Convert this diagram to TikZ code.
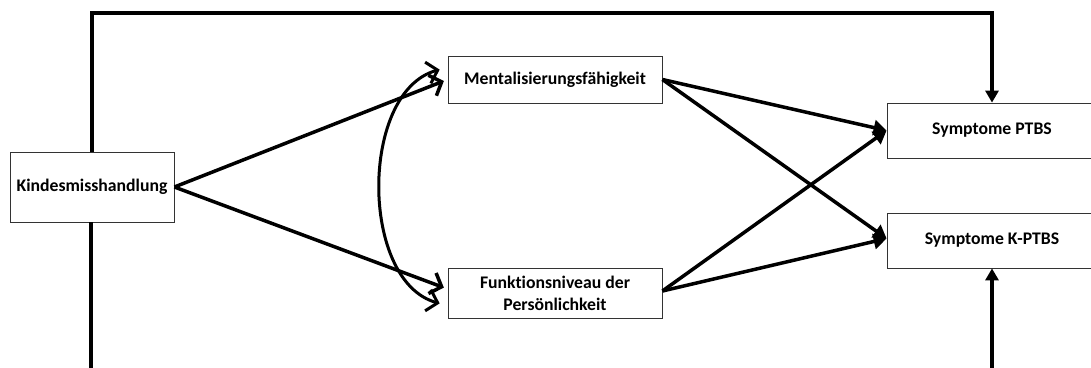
\documentclass[tikz,border=0pt]{standalone}
\usepackage{fontspec}
\setmainfont{Carlito}[Ligatures=NoCommon]
\usetikzlibrary{arrows.meta,positioning,calc}

\begin{document}
\begin{tikzpicture}[
  x=1pt, y=-1pt,
  every node/.style={font=\fontsize{17.7}{22}\selectfont\bfseries},
  var/.style={draw=black!80, line width=0.8pt, fill=white,
              align=center, inner sep=0pt},
  barb/.style={line width=3.5pt, -{Straight Barb[length=10pt,width=22pt]}},
  cov/.style={line width=3pt,
              {Straight Barb[length=10pt,width=22pt]}-{Straight Barb[length=10pt,width=22pt]}},
  effect/.style={line width=3.5pt, -{Triangle[length=13pt,width=15pt]}},
  feedback/.style={line width=3.5pt, -{Triangle[length=12pt,width=13pt]}},
]
\useasboundingbox (0,0) rectangle (1091,367);

% Variables
\node[var, minimum width=164pt, minimum height=70pt] (kind) at (92,187) {Kindesmisshandlung};
\node[var, minimum width=214pt, minimum height=47pt] (ment) at (555,79.5) {Mentalisierungsfähigkeit};
\node[var, minimum width=214pt, minimum height=50pt] (funk) at (555,293) {Funktionsniveau der\\Persönlichkeit};
\node[var, minimum width=210pt, minimum height=55pt] (ptbs) at (992,130.5) {Symptome PTBS};
\node[var, minimum width=210pt, minimum height=55pt] (kptbs) at (992,240.5) {Symptome K-PTBS};

% Paths
\draw[barb, shorten >=4pt] (kind.east) -- (ment.west);
\draw[barb, shorten >=4pt] (kind.east) -- ($(funk.west)+(0,-4)$);

% Covariance
\coordinate (covtop) at ($(ment.north west)+(-8,14)$);
\coordinate (covbot) at ($(funk.south west)+(-8,-15)$);
\draw[cov] (covtop) .. controls +(-80,22) and +(-80,-22) .. (covbot);

\draw[effect] (ment.east) -- (ptbs.west);
\draw[effect] (ment.east) -- ($(kptbs.west)+(0,-2)$);
\draw[effect] ($(funk.east)+(0,-2)$) -- (ptbs.west);
\draw[effect] ($(funk.east)+(0,-2)$) -- ($(kptbs.west)+(0,-2)$);

% Direct effects
\coordinate (topright) at (992,13);
\coordinate (botleft) at (91,372);
\coordinate (botright) at (992,372);
\draw[feedback] (kind.north) |- (topright) -- (ptbs.north);
\draw[line width=3.5pt] (kind.south -| botleft) -- (botleft);
\draw[feedback] (botright) -- (kptbs.south);

\end{tikzpicture}
\end{document}
